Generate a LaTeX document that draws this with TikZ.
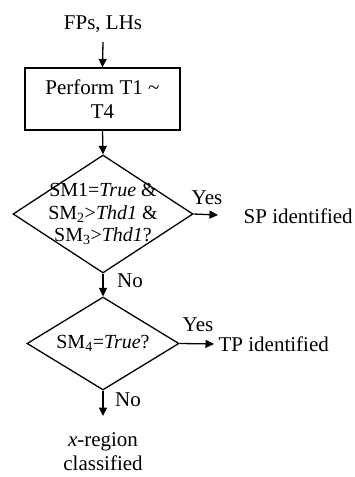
\documentclass[tikz,border=0pt]{standalone}
\usepackage{fontspec}
\setmainfont{Liberation Serif}
\usetikzlibrary{arrows.meta, shapes.geometric}

\begin{document}
\begin{tikzpicture}[
  x=1pt, y=-1pt,
  >={Triangle[length=8.5pt,width=8pt]},
  line width=1.3pt,
  txt/.style={
    inner sep=0pt,
    align=center,
    font=\fontsize{21}{24}\selectfont
  },
  process/.style={
    draw,
    rectangle,
    minimum width=155pt,
    minimum height=62pt,
    inner sep=0pt,
    align=center,
    font=\fontsize{21}{24}\selectfont
  },
  decision/.style={
    draw,
    diamond,
    inner sep=0pt
  },
  cond/.style={
    inner sep=0pt,
    align=center,
    font=\fontsize{20}{22.5}\selectfont
  }
]

\useasboundingbox (0,0) rectangle (355,477);

% --- Input and first step ---
\node[txt] (in) at (103,24) {FPs, LHs};
\coordinate (inEnd) at (103,42);
\node[process] (perform) at (102.5,99) {Perform T1 \textasciitilde\\T4};

% --- Decisions ---
\node[decision, minimum width=180pt, minimum height=118pt,
  label={[cond]center:SM1=\textit{True} \&\\SM\textsubscript{2}>\textit{Thd1} \&\\SM\textsubscript{3}>\textit{Thd1}?}]
  (dec1) at (103,214) {};
\node[decision, minimum width=152pt, minimum height=93pt,
  label={[cond]center:SM\textsubscript{4}=\textit{True}?}]
  (dec2) at (103,343.5) {};

% --- Outcomes ---
\coordinate (spEnd) at (218,215);
\node[txt, anchor=west] (sp) at (243,216) {SP identified};
\node[txt, anchor=west] (tp) at (218,344) {TP identified};
\coordinate (xEnd) at (103,416);
\node[txt] (xreg) at (103,452) {\textit{x}-region\\classified};

% --- Connectors ---
\draw[->] (inEnd) -- (perform.north);
\draw[->] (perform.south) -- (dec1.north);
\draw[->] (dec1.east) -- (spEnd);
\draw[->] (dec1.south) -- (dec2.north);
\draw[->, shorten >=4pt] (dec2.east) -- (tp.west);
\draw[->] (dec2.south) -- (xEnd);

% --- Branch labels ---
\node[txt] (yes1) at (207,198) {Yes};
\node[txt] (no1)  at (130,281) {No};
\node[txt] (yes2) at (198,325) {Yes};
\node[txt] (no2)  at (128,400) {No};

\end{tikzpicture}
\end{document}
